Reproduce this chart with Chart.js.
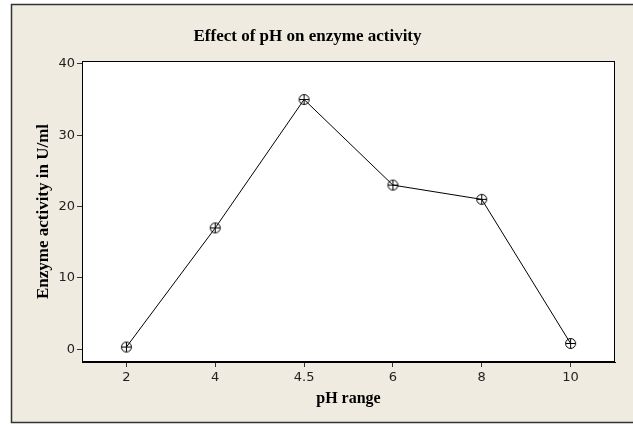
<!DOCTYPE html>
<html>
<head>
<meta charset="utf-8">
<script src="https://cdn.jsdelivr.net/npm/chart.js@4/dist/chart.umd.min.js"></script>
<style>
  html, body { margin: 0; padding: 0; background: #fff; }
  #wrap { width: 633px; height: 424px; }
</style>
</head>
<body>
<div id="wrap"><canvas id="phChart" width="633" height="424"></canvas></div>
<script>
const phLabels = ['2', '4', '4.5', '6', '8', '10'];
const activity = [0.3, 17, 35, 23, 21, 0.8];
const yTicks = [0, 10, 20, 30, 40];

// circle with a plus inside, like the Minitab marker
const marker = document.createElement('canvas');
marker.width = 13;
marker.height = 13;
(() => {
  const m = marker.getContext('2d');
  m.strokeStyle = '#000';
  m.lineWidth = 1;
  m.beginPath();
  m.arc(6.5, 6.5, 5, 0, Math.PI * 2);
  m.moveTo(1.5, 6.5); m.lineTo(11.5, 6.5);
  m.moveTo(6.5, 1.5); m.lineTo(6.5, 11.5);
  m.stroke();
})();

const frame = {
  id: 'frame',
  beforeDraw(chart) {
    const { ctx, chartArea: a } = chart;
    ctx.save();
    ctx.fillStyle = '#fff';
    ctx.fillRect(0, 0, chart.width, chart.height);
    ctx.fillStyle = '#efebe1';
    ctx.fillRect(11, 4, chart.width, 418);
    ctx.strokeStyle = '#333';
    ctx.lineWidth = 1.5;
    ctx.strokeRect(11.5, 4.5, chart.width, 418);
    ctx.fillStyle = '#fff';
    ctx.fillRect(a.left, a.top, a.right - a.left, a.bottom - a.top);
    ctx.restore();
  },
  afterDatasetsDraw(chart) {
    const { ctx, chartArea: a } = chart;
    ctx.save();
    ctx.strokeStyle = '#000';
    ctx.lineWidth = 1;
    ctx.strokeRect(a.left + 0.5, a.top + 0.5, a.right - a.left - 1, a.bottom - a.top - 1);
    ctx.restore();
  }
};

const tickFont = { family: 'DejaVu Sans, Verdana, sans-serif', size: 13 };
const serif = 'Liberation Serif, Times New Roman, serif';

new Chart(document.getElementById('phChart'), {
  type: 'line',
  data: {
    labels: phLabels,
    datasets: [{
      data: activity,
      borderColor: '#000',
      borderWidth: 1,
      tension: 0,
      pointStyle: marker,
      pointRadius: 6,
      pointHoverRadius: 6,
    }],
  },
  options: {
    responsive: false,
    animation: false,
    layout: { padding: { left: 0, top: 0, right: 18, bottom: 0 } },
    plugins: {
      legend: { display: false },
      tooltip: { enabled: false },
      title: {
        display: true,
        text: 'Effect of pH on enzyme activity',
        color: '#000',
        font: { family: serif, size: 17, weight: 'bold' },
        padding: { top: 26, bottom: 14.6 },
      },
    },
    scales: {
      x: {
        offset: true,
        afterFit: (s) => { s.height = 62; },
        grid: { drawOnChartArea: false, drawTicks: true, tickLength: 5, color: '#333', offset: false },
        border: { display: true, color: '#000' },
        ticks: { color: '#222', font: tickFont, padding: 3, maxRotation: 0 },
        title: { display: true, text: 'pH range', color: '#000', font: { family: serif, size: 16, weight: 'bold' }, padding: { top: 0, bottom: 15.4 } },
      },
      y: {
        min: -1.8,
        max: 40.4,
        afterFit: (s) => { s.width = 82; },
        afterBuildTicks: (s) => { s.ticks = yTicks.map((v) => ({ value: v })); },
        grid: { drawOnChartArea: false, drawTicks: true, tickLength: 5, color: '#333' },
        border: { display: true, color: '#000' },
        ticks: { color: '#222', font: tickFont, padding: 2 },
        title: { display: true, text: 'Enzyme activity in U/ml', color: '#000', font: { family: serif, size: 17, weight: 'bold' }, padding: { top: 33.8, bottom: 0 } },
      },
    },
  },
  plugins: [frame],
});
</script>
</body>
</html>
